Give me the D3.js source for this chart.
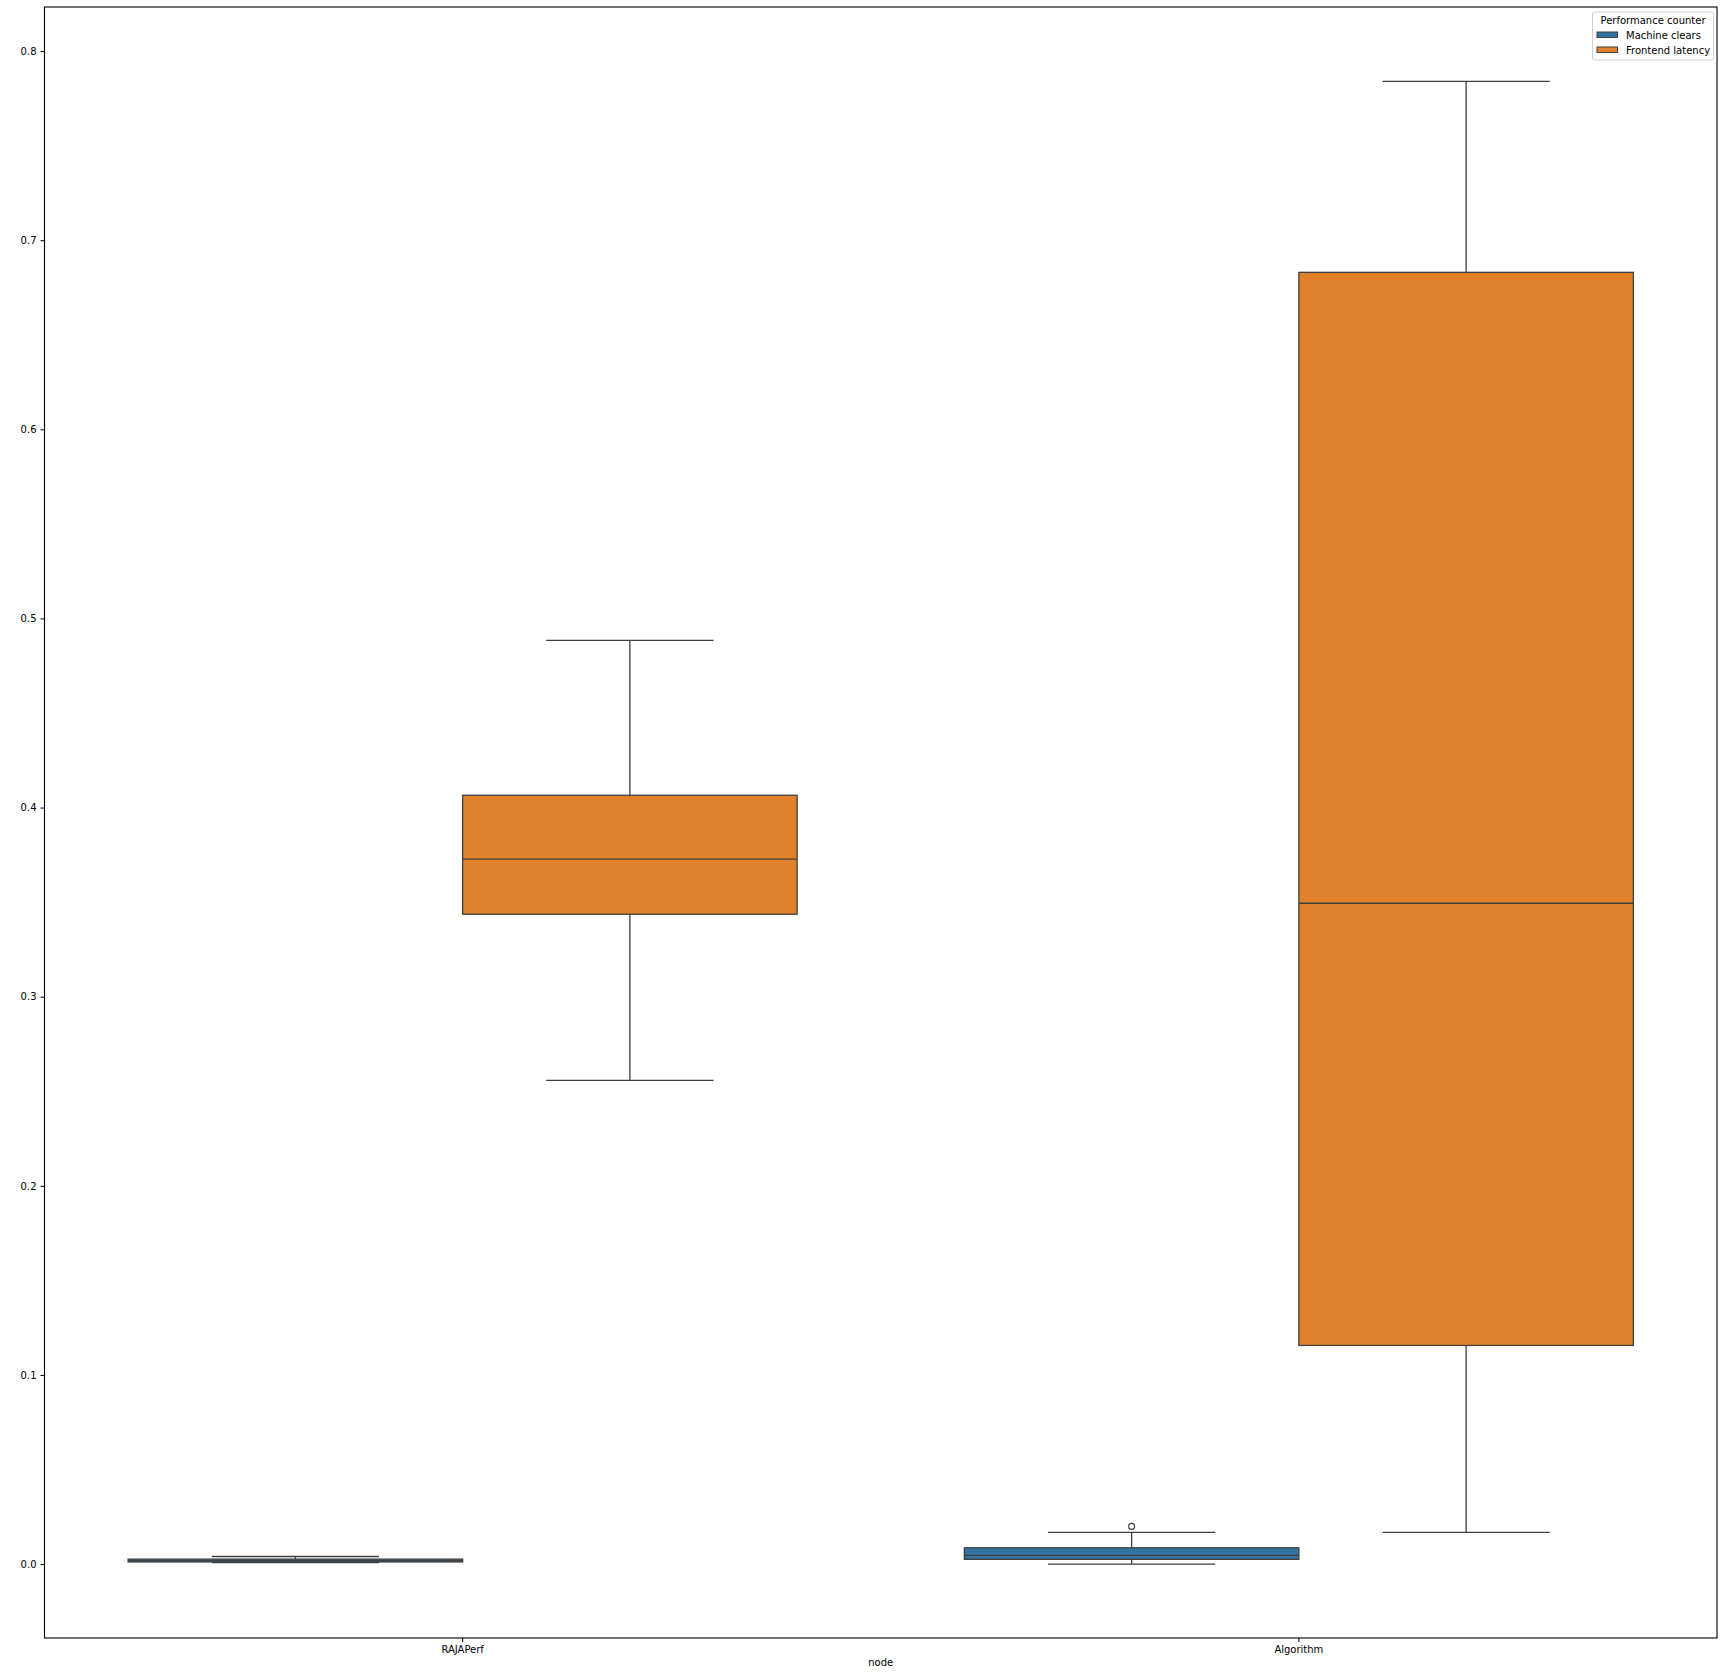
<!DOCTYPE html>
<html>
<head>
<meta charset="utf-8">
<script src="https://cdn.jsdelivr.net/npm/d3@7"></script>
<style>
  html, body { margin: 0; padding: 0; background: #fff; }
  svg { display: block; }
  text { font-family: "DejaVu Sans", sans-serif; fill: #000; }
</style>
</head>
<body>
<svg id="chart" width="1725" height="1676"></svg>
<script>
// ---- data ----
const categories = ["RAJAPerf", "Algorithm"];
const hues = ["Machine clears", "Frontend latency"];
const hueColors = ["#3274a1", "#e1812c"];

// box stats per hue, indexed by category
const machineWhiskerLow  = [0.0008, 0.0000];
const machineQ1          = [0.0011, 0.0025];
const machineMedian      = [0.0018, 0.0046];
const machineQ3          = [0.0026, 0.0086];
const machineWhiskerHigh = [0.0040, 0.0168];
const machineOutliers    = [[], [0.0199]];

const frontendWhiskerLow  = [0.2558, 0.0168];
const frontendQ1          = [0.3436, 0.1156];
const frontendMedian      = [0.3727, 0.3494];
const frontendQ3          = [0.4065, 0.6830];
const frontendWhiskerHigh = [0.4884, 0.7840];
const frontendOutliers    = [[], []];

const yTicks = [0.0, 0.1, 0.2, 0.3, 0.4, 0.5, 0.6, 0.7, 0.8];
const xLabel = "node";
const legendTitle = "Performance counter";

// ---- build records ----
const boxes = [];
categories.forEach((c, i) => {
  boxes.push({cat: c, hue: hues[0], lo: machineWhiskerLow[i], q1: machineQ1[i], med: machineMedian[i], q3: machineQ3[i], hi: machineWhiskerHigh[i], out: machineOutliers[i]});
  boxes.push({cat: c, hue: hues[1], lo: frontendWhiskerLow[i], q1: frontendQ1[i], med: frontendMedian[i], q3: frontendQ3[i], hi: frontendWhiskerHigh[i], out: frontendOutliers[i]});
});

// ---- layout ----
const mLeft = 44.5, mRight = 1717, mTop = 7, mBottom = 1638;
const svg = d3.select("#chart");
const fs = "10px";

const x = d3.scaleBand().domain(categories).range([mLeft, mRight]).paddingInner(0).paddingOuter(0);
const bw = x.bandwidth();
const xh = d3.scaleBand().domain(hues).range([0.1 * bw, 0.9 * bw]).padding(0);
const boxW = xh.bandwidth();

const y = d3.scaleLinear().domain([-0.0391, 0.8233]).range([mBottom, mTop]);
const color = d3.scaleOrdinal().domain(hues).range(hueColors);

const edge = "#3f3f3f";
const lw = 1.3;

const g = svg.append("g");

boxes.forEach(b => {
  const x0 = x(b.cat) + xh(b.hue);
  const cx = x0 + boxW / 2;
  const capW = boxW / 2;
  g.append("line").attr("x1", cx).attr("x2", cx).attr("y1", y(b.q3)).attr("y2", y(b.hi))
    .attr("stroke", edge).attr("stroke-width", lw);
  g.append("line").attr("x1", cx).attr("x2", cx).attr("y1", y(b.q1)).attr("y2", y(b.lo))
    .attr("stroke", edge).attr("stroke-width", lw);
  g.append("line").attr("x1", cx - capW / 2).attr("x2", cx + capW / 2).attr("y1", y(b.hi)).attr("y2", y(b.hi))
    .attr("stroke", edge).attr("stroke-width", lw);
  g.append("line").attr("x1", cx - capW / 2).attr("x2", cx + capW / 2).attr("y1", y(b.lo)).attr("y2", y(b.lo))
    .attr("stroke", edge).attr("stroke-width", lw);
  g.append("rect").attr("x", x0).attr("width", boxW)
    .attr("y", y(b.q3)).attr("height", Math.max(0.5, y(b.q1) - y(b.q3)))
    .attr("fill", color(b.hue)).attr("stroke", edge).attr("stroke-width", lw);
  g.append("line").attr("x1", x0).attr("x2", x0 + boxW).attr("y1", y(b.med)).attr("y2", y(b.med))
    .attr("stroke", edge).attr("stroke-width", lw);
  b.out.forEach(o => {
    g.append("circle").attr("cx", cx).attr("cy", y(o)).attr("r", 3)
      .attr("fill", "none").attr("stroke", edge).attr("stroke-width", 1.1);
  });
});

// ---- axes ----
const yAxis = d3.axisLeft(y).tickValues(yTicks).tickFormat(d3.format(".1f")).tickSize(4).tickPadding(4);
const yg = svg.append("g").attr("transform", `translate(${mLeft},0)`).call(yAxis);
yg.select(".domain").remove();
yg.selectAll("text").style("font-size", fs).style("font-family", "DejaVu Sans, sans-serif").attr("fill", "#000");
yg.selectAll("line").attr("stroke", "#000").attr("stroke-width", 1);

const xAxis = d3.axisBottom(x).tickSize(4).tickPadding(4);
const xg = svg.append("g").attr("transform", `translate(0,${mBottom})`).call(xAxis);
xg.select(".domain").remove();
xg.selectAll("text").style("font-size", fs).style("font-family", "DejaVu Sans, sans-serif").attr("fill", "#000");
xg.selectAll("line").attr("stroke", "#000").attr("stroke-width", 1);

// frame
svg.append("rect").attr("x", mLeft).attr("y", mTop).attr("width", mRight - mLeft).attr("height", mBottom - mTop)
  .attr("fill", "none").attr("stroke", "#000").attr("stroke-width", 1.1);

// x label
svg.append("text").attr("x", (mLeft + mRight) / 2).attr("y", 1666).attr("text-anchor", "middle")
  .style("font-size", fs).text(xLabel);

// ---- legend ----
const lg = svg.append("g");
lg.append("rect").attr("x", 1592.5).attr("y", 12).attr("width", 121).attr("height", 48).attr("rx", 2)
  .attr("fill", "#fff").attr("fill-opacity", 0.8).attr("stroke", "#d0d0d0").attr("stroke-width", 1);
lg.append("text").attr("x", 1653).attr("y", 24).attr("text-anchor", "middle")
  .style("font-size", fs).text(legendTitle);
hues.forEach((h, i) => {
  const yy = 32 + i * 15;
  lg.append("rect").attr("x", 1597).attr("y", yy).attr("width", 20.5).attr("height", 5.5)
    .attr("fill", color(h)).attr("stroke", edge).attr("stroke-width", 1);
  lg.append("text").attr("x", 1626).attr("y", yy + 6.5).style("font-size", fs).text(h);
});
</script>
</body>
</html>
